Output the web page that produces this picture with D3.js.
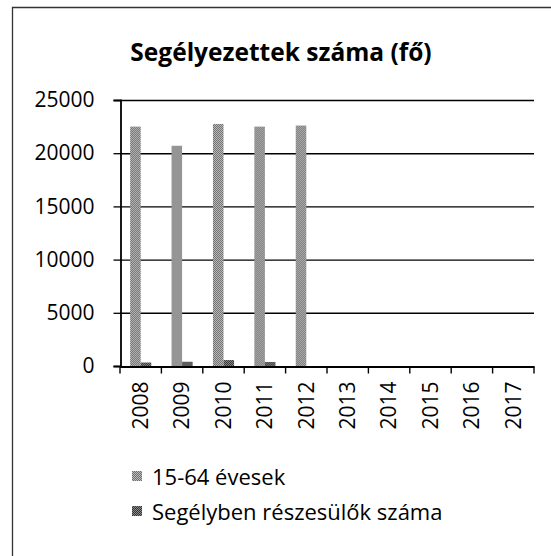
<!DOCTYPE html>
<html><head><meta charset="utf-8">
<script src="https://cdn.jsdelivr.net/npm/d3@7"></script>
<style>body{margin:0;background:#fff}svg{display:block}</style>
</head><body>
<script>
const years = ["2008","2009","2010","2011","2012","2013","2014","2015","2016","2017"];
const seriesNames = ["15-64 évesek","Segélyben részesülők száma"];
const s1 = [22500, 20700, 22750, 22500, 22600, null, null, null, null, null];
const s2 = [330, 400, 560, 380, null, null, null, null, null, null];
const yTicks = [0, 5000, 10000, 15000, 20000, 25000];
const title = "Segélyezettek száma (fő)";

const W = 551, H = 556;
const svg = d3.select("body").append("svg").attr("width", W).attr("height", H);
const defs = svg.append("defs");
function pat(id, c1, c2){
  const p = defs.append("pattern").attr("id", id).attr("width", 2).attr("height", 2).attr("patternUnits", "userSpaceOnUse");
  p.append("rect").attr("width", 2).attr("height", 2).attr("fill", c1);
  p.append("rect").attr("width", 1).attr("height", 1).attr("fill", c2);
  p.append("rect").attr("x", 1).attr("y", 1).attr("width", 1).attr("height", 1).attr("fill", c2);
}
pat("p1", "#6e6e6e", "#bcbcbc");
pat("p2", "#333333", "#8a8a8a");
const fills = ["url(#p1)", "url(#p2)"];

// frame
svg.append("path").attr("d", `M12.5,${H} V7.5 H${W}`).attr("fill", "none").attr("stroke", "#333").attr("stroke-width", 1.3);

const pLeft = 120, pRight = 534, pTop = 100, pBottom = 366;
const x = d3.scaleBand().domain(years).range([pLeft, pRight]).paddingInner(0.49).paddingOuter(0.245);
const x2 = d3.scaleBand().domain([0,1]).range([0, x.bandwidth()]);
const y = d3.scaleLinear().domain([0, 25000]).range([pBottom, pTop]);

const font = "'Open Sans', sans-serif";

svg.append("text").attr("x", 281).attr("y", 61).attr("text-anchor", "middle")
  .attr("font-family", font).attr("font-weight", 700).attr("font-size", 24.5).attr("fill", "#000").text(title);

// gridlines
svg.append("g").selectAll("line").data(yTicks.filter(d => d > 0)).join("line")
  .attr("x1", pLeft).attr("x2", pRight).attr("y1", d => y(d) + 0.5).attr("y2", d => y(d) + 0.5)
  .attr("stroke", "#000").attr("stroke-width", 1.4);

// y axis
const ya = svg.append("g").attr("transform", `translate(${pLeft + 0.5},0)`)
  .call(d3.axisLeft(y).tickValues(yTicks).tickSize(7).tickPadding(19).tickFormat(d3.format("d")));
ya.select(".domain").attr("stroke", "#000").attr("stroke-width", 1.8);
ya.selectAll(".tick line").attr("stroke", "#000").attr("stroke-width", 1.3);
ya.selectAll("text").attr("font-family", font).attr("font-size", 21).attr("fill", "#000");

// bars
const groups = svg.append("g").selectAll("g").data(years).join("g")
  .attr("transform", d => `translate(${x(d)},0)`);
[s1, s2].forEach((s, si) => {
  groups.filter((d, i) => s[i] != null).append("rect")
    .attr("x", x2(si)).attr("width", x2.bandwidth())
    .attr("y", d => y(s[years.indexOf(d)]))
    .attr("height", d => pBottom - y(s[years.indexOf(d)]))
    .attr("fill", fills[si]);
});

// x axis
const xa = svg.append("g").attr("transform", `translate(0,${pBottom + 0.5})`)
  .call(d3.axisBottom(x).tickSize(0).tickPadding(0));
xa.select(".domain").attr("stroke", "#000").attr("stroke-width", 1.8);
xa.selectAll(".tick line").remove();
const bounds = d3.range(years.length + 1).map(i => pLeft + i * x.step());
xa.selectAll(".bt").data(bounds).join("line").attr("class", "bt")
  .attr("x1", d => d).attr("x2", d => d).attr("y1", 0).attr("y2", 7).attr("stroke", "#000").attr("stroke-width", 1.4);
xa.selectAll(".tick text").attr("font-family", font).attr("font-size", 21).attr("fill", "#000")
  .attr("text-anchor", "end").attr("dy", "0.35em")
  .attr("transform", "translate(0,15) rotate(-90)");

// legend
const lg = svg.append("g");
seriesNames.forEach((n, i) => {
  const yy = 485 + i * 35;
  lg.append("rect").attr("x", 132).attr("y", yy - 14).attr("width", 10).attr("height", 10).attr("fill", fills[i]);
  lg.append("text").attr("x", 152).attr("y", yy).attr("font-family", font).attr("font-size", 22).attr("fill", "#000").text(n);
});
</script>
</body></html>
